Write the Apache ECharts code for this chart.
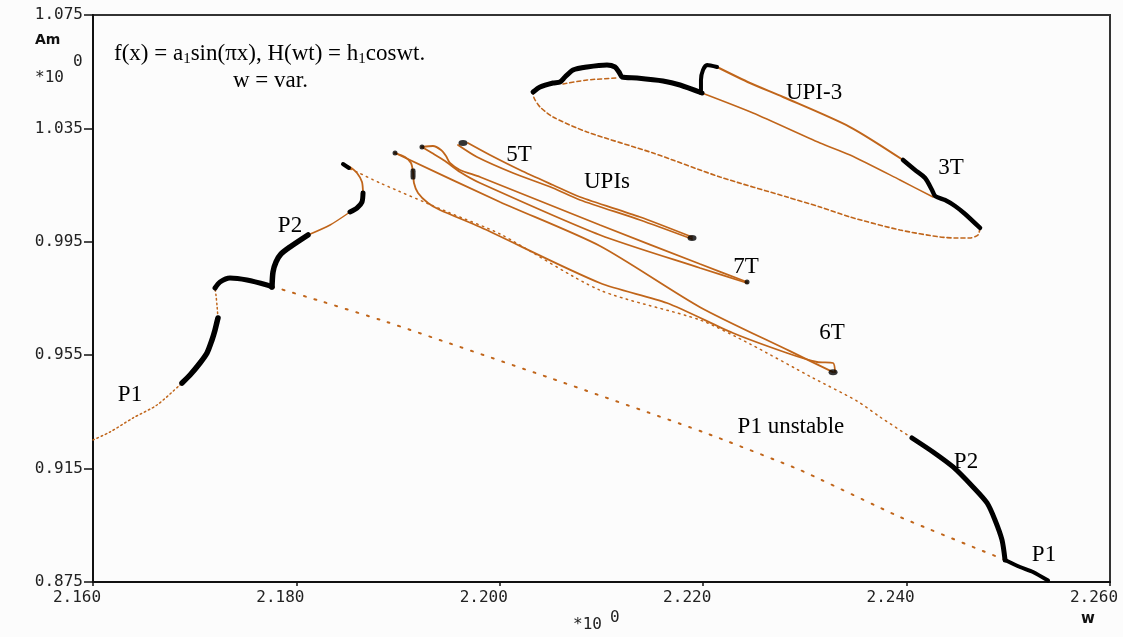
<!DOCTYPE html>
<html><head><meta charset="utf-8">
<script src="https://cdn.jsdelivr.net/npm/echarts@6/dist/echarts.min.js"></script>
<style>html,body{margin:0;padding:0;background:#fcfcfc}#c{width:1123px;height:637px}</style>
</head><body><div id="c"></div>
<script>
const xTicks=[2.16,2.18,2.20,2.22,2.24,2.26];
const yTicks=[0.875,0.915,0.955,0.995,1.035,1.075];

const p1LeftUnstable=[[2.1600,0.92509],[2.16167,0.92791],[2.16393,0.93285],[2.16629,0.93743],[2.16855,0.94449],[2.16875,0.94520]];
const p1LeftStable=[[2.16875,0.94520],[2.16954,0.94802],[2.17052,0.95225],[2.17121,0.95578],[2.17170,0.96036],[2.17200,0.96389],[2.17219,0.96671],[2.17229,0.96812]];
const p1Fold=[[2.17229,0.96812],[2.17219,0.97271],[2.17209,0.97624],[2.17200,0.97870]];
const p1Upper=[[2.17200,0.97870],[2.17249,0.98082],[2.17347,0.98223],[2.17514,0.98153],[2.17711,0.97976],[2.17760,0.97906]];
const p2LeftA=[[2.17760,0.97906],[2.17770,0.98435],[2.17800,0.98788],[2.17849,0.99070],[2.17937,0.99317],[2.18114,0.99740]];
const p2LeftB=[[2.18114,0.99740],[2.18331,1.00093],[2.18527,1.00551]];
const p2LeftC=[[2.18527,1.00551],[2.18596,1.00692],[2.18645,1.00904],[2.18655,1.01221]];
const p2LeftD=[[2.18655,1.01221],[2.18645,1.01609],[2.18596,1.01927],[2.18527,1.02139],[2.18478,1.02209]];
const p2Tip=[[2.18458,1.02244],[2.18517,1.02103]];
const p2Unstable=[[2.18527,1.02068],[2.18596,1.01962],[2.18822,1.01574],[2.19510,1.00516],[2.20002,0.99775],[2.20985,0.97794],[2.21969,0.96742],[2.22460,0.95895],[2.23080,0.94696],[2.23512,0.93885],[2.23739,0.93320],[2.24053,0.92580]];
const p2RightStable=[[2.24053,0.92580],[2.24260,0.92086],[2.24457,0.91557],[2.24653,0.90851],[2.24791,0.90287],[2.24869,0.89687],[2.24938,0.88982],[2.24968,0.88277]];
const p1RightStable=[[2.24968,0.88277],[2.25115,0.88030],[2.25243,0.87854],[2.25391,0.8755]];
const p1Unstable=[[2.17760,0.97906],[2.17809,0.97870],[2.18203,0.97447],[2.18891,0.96671],[2.20494,0.94696],[2.21998,0.92791],[2.22952,0.91451],[2.23935,0.89793],[2.24968,0.88277]];

const upi6Upper=[[2.18970,1.02632],[2.20002,1.00904],[2.20985,0.99352],[2.21969,0.97194],[2.22854,0.95642],[2.23277,0.94901]];
const upi6Lower=[[2.18970,1.02632],[2.19068,1.02491],[2.19127,1.02280],[2.19147,1.01962],[2.19156,1.01574],[2.19196,1.01221],[2.19294,1.00869],[2.19412,1.00622],[2.19806,1.00022],[2.20985,0.98047],[2.21644,0.97341],[2.22293,0.96283],[2.22824,0.95578],[2.23119,0.95260],[2.23277,0.95225],[2.23296,0.94901]];
const upi7A=[[2.19235,1.02844],[2.19343,1.02879],[2.19422,1.02738],[2.19471,1.02527],[2.19510,1.02280],[2.19609,1.02033],[2.19806,1.01786],[2.20985,1.00093],[2.21969,0.98717],[2.22431,0.98082]];
const upi7B=[[2.19235,1.02844],[2.19334,1.02632],[2.19461,1.02350],[2.19609,1.01962],[2.19806,1.01574],[2.20985,0.99740],[2.21969,0.98576],[2.22431,0.98047]];
const upi5A=[[2.19687,1.02985],[2.19904,1.02562],[2.20199,1.02033],[2.20523,1.01504],[2.20789,1.01080],[2.21379,1.00375],[2.21890,0.99669]];
const upi5B=[[2.19589,1.02914],[2.19776,1.02491],[2.20130,1.01927],[2.20523,1.01398],[2.20789,1.00974],[2.21379,1.00269],[2.21890,0.99599]];

const upi3Arch=[[2.20327,1.04784],[2.20396,1.04960],[2.20523,1.05101],[2.20592,1.05137],[2.20641,1.05313],[2.20720,1.05560],[2.20858,1.05666],[2.21054,1.05736],[2.21133,1.05666],[2.21172,1.05489],[2.21202,1.05313],[2.21349,1.05278],[2.21605,1.05172],[2.21772,1.05031],[2.21988,1.04749]];
const upi3Hook=[[2.21978,1.04749],[2.21978,1.05207],[2.21998,1.05560],[2.22038,1.05736],[2.22136,1.05666]];
const upi3Outer=[[2.22136,1.05666],[2.22460,1.05101],[2.22785,1.04608],[2.23444,1.03549],[2.23965,1.02386]];
const upi3Stable=[[2.23965,1.02386],[2.24083,1.02033],[2.24182,1.01750],[2.24250,1.01327],[2.24280,1.01115],[2.24378,1.00974],[2.24476,1.00763],[2.24575,1.00481],[2.24722,0.99987]];
const upi3Inner=[[2.21988,1.04749],[2.22490,1.04043],[2.23149,1.02985],[2.23444,1.02562],[2.23935,1.01680],[2.24260,1.01080]];
const upi3Lower=[[2.24722,0.99987],[2.24702,0.99740],[2.24624,0.99634],[2.24496,0.99634],[2.24329,0.99669],[2.23935,0.99916],[2.23444,1.00375],[2.23149,1.00728],[2.22824,1.01080],[2.22166,1.01786],[2.21507,1.02632],[2.20858,1.03373],[2.20523,1.03902],[2.20396,1.04255],[2.20337,1.04573],[2.20327,1.04784]];
const upi3UnderArch=[[2.20622,1.05066],[2.20858,1.05207],[2.21153,1.05278]];

const stableDots=[[2.18970,1.02632],[2.19235,1.02844],[2.22431,0.98082]];
const stableBlobs=[[2.19638,1.02985],[2.21890,0.99634],[2.23277,0.94901]];
const stableBar=[[2.19147,1.01891]];

const annotations=[[2.20189,1.02562,'5T'],[2.21054,1.01609,'UPIs'],[2.23090,1.04749,'UPI-3'],[2.24437,1.02103,'3T'],[2.22421,0.98611,'7T'],[2.23267,0.96283,'6T'],[2.17937,1.00057,'P2'],[2.16364,0.94096,'P1'],[2.22863,0.92967,'P1 unstable'],[2.24584,0.91733,'P2'],[2.25351,0.88453,'P1']];

const ORANGE='#c0651a', BLACK='#000';
function ln(data,color,width,type,z,smooth){
  return {type:'line',data:data,symbol:'none',showSymbol:false,smooth:smooth===undefined?0.25:smooth,
    lineStyle:{color:color,width:width,type:type||'solid',cap:'round'},z:z||2,silent:true,animation:false};
}
const DENSE=[1.5,3], SPARSE=[2,9], DASH=[4,3];
const series=[
  ln(p1LeftUnstable,ORANGE,1.5,DENSE),
  ln(p1LeftStable,BLACK,5.5,'solid',4),
  ln(p1Fold,ORANGE,1.5,DENSE),
  ln(p1Upper,BLACK,5,'solid',4),
  ln(p2LeftA,BLACK,5.5,'solid',4),
  ln(p2LeftB,ORANGE,1.5,'solid'),
  ln(p2LeftC,BLACK,5,'solid',4),
  ln(p2LeftD,ORANGE,1.8,'solid'),
  ln(p2Tip,BLACK,4,'solid',4),
  ln(p2Unstable,ORANGE,1.5,[1.5,4.5]),
  ln(p2RightStable,BLACK,5,'solid',4),
  ln(p1RightStable,BLACK,4,'solid',4),
  ln(p1Unstable,ORANGE,2,SPARSE,2,0.15),
  ln(upi6Upper,ORANGE,1.8,'solid'),
  ln(upi6Lower,ORANGE,1.8,'solid'),
  ln(upi7A,ORANGE,1.8,'solid'),
  ln(upi7B,ORANGE,1.8,'solid'),
  ln(upi5A,ORANGE,1.8,'solid'),
  ln(upi5B,ORANGE,1.8,'solid'),
  ln(upi3Arch,BLACK,5,'solid',4),
  ln(upi3Hook,BLACK,4,'solid',4),
  ln(upi3Outer,ORANGE,2,'solid'),
  ln(upi3Stable,BLACK,4.5,'solid',4),
  ln(upi3Inner,ORANGE,1.5,'solid'),
  ln(upi3Lower,ORANGE,1.6,DASH),
  ln(upi3UnderArch,ORANGE,1.5,DASH),
  {type:'scatter',data:stableDots,symbol:'circle',symbolSize:5,itemStyle:{color:BLACK},z:5,silent:true,animation:false},
  {type:'scatter',data:stableBlobs,symbol:'circle',symbolSize:[9,6],itemStyle:{color:BLACK},z:5,silent:true,animation:false},
  {type:'scatter',data:stableBar,symbol:'roundRect',symbolSize:[5,11],itemStyle:{color:BLACK},z:5,silent:true,animation:false},
  {type:'scatter',data:annotations,symbolSize:0,itemStyle:{color:'#000',opacity:1},z:6,silent:true,animation:false,
    label:{show:true,position:'inside',formatter:p=>p.data[2],color:'#000',opacity:1,textBorderWidth:0,fontFamily:'Liberation Serif',fontSize:23}}
];

const chart=echarts.init(document.getElementById('c'),null,{renderer:'canvas'});
const tickFont={fontFamily:'DejaVu Sans Mono',fontSize:16,color:'#222'};
chart.setOption({
  backgroundColor:'#fcfcfc',
  animation:false,
  grid:{left:93,right:13,top:15,bottom:55,show:true,borderColor:'#333',borderWidth:2,backgroundColor:'transparent',outerBoundsMode:'none'},
  xAxis:{type:'value',min:2.16,max:2.26,
    axisLine:{lineStyle:{color:'#111',width:2}},
    axisTick:{show:true,length:4,lineStyle:{color:'#111',width:1.5},customValues:xTicks},
    axisLabel:Object.assign({margin:8,formatter:v=>v.toFixed(3),customValues:xTicks,padding:[0,32,0,0]},tickFont),
    splitLine:{show:false}},
  yAxis:{type:'value',min:0.875,max:1.075,
    axisLine:{lineStyle:{color:'#111',width:2}},
    axisTick:{show:true,length:9,lineStyle:{color:'#111',width:1.5},customValues:yTicks},
    axisLabel:Object.assign({margin:10,formatter:v=>v.toFixed(3),customValues:yTicks},tickFont),
    splitLine:{show:false}},
  graphic:[
    {type:'text',left:35,top:33,style:{text:'Am',font:'bold 14px "DejaVu Sans"',fill:'#111'}},
    {type:'text',left:35,top:70,style:{text:'*10',font:'16px "DejaVu Sans Mono"',fill:'#222'}},
    {type:'text',left:73,top:54,style:{text:'0',font:'16px "DejaVu Sans Mono"',fill:'#222'}},
    {type:'text',left:573,top:617,style:{text:'*10',font:'16px "DejaVu Sans Mono"',fill:'#222'}},
    {type:'text',left:610,top:610,style:{text:'0',font:'16px "DejaVu Sans Mono"',fill:'#222'}},
    {type:'text',left:1081,top:612,style:{text:'w',font:'bold 15px "DejaVu Sans"',fill:'#111'}},
    {type:'text',left:114,top:41,style:{text:'f(x) = a{s|1}sin(πx), H(wt) = h{s|1}coswt.',font:'23px "Liberation Serif"',fill:'#000',
      lineHeight:26,rich:{s:{font:'15px "Liberation Serif"',fill:'#000',verticalAlign:'bottom',lineHeight:16}}}},
    {type:'text',left:233,top:69,style:{text:'w = var.',font:'23px "Liberation Serif"',fill:'#000'}}
  ],
  series:series
});
</script></body></html>
